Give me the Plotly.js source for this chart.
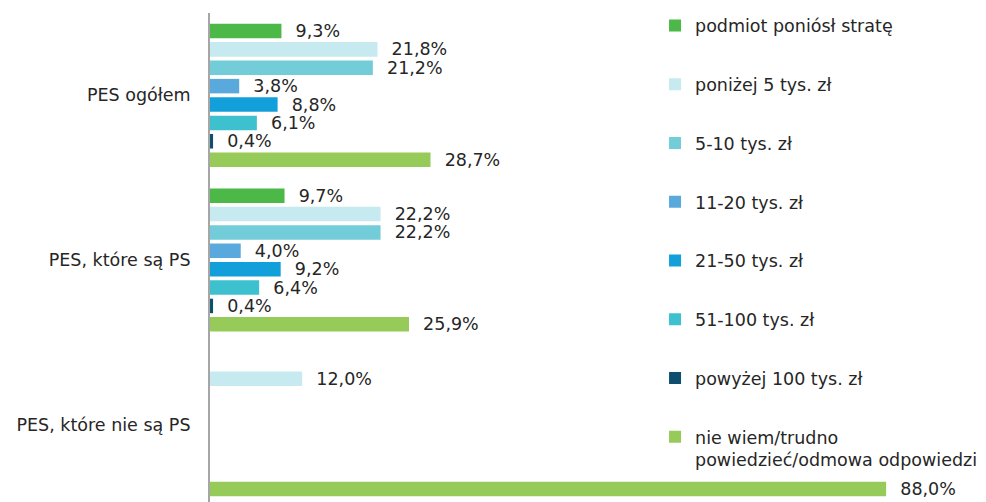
<!DOCTYPE html>
<html>
<head>
<meta charset="utf-8">
<script src="https://cdn.plot.ly/plotly-3.0.1.min.js"></script>
<style>html,body{margin:0;padding:0;background:#fff;}#chart{width:986px;height:502px;}</style>
</head>
<body>
<div id="chart"></div>
<script>
const categories = ["PES ogółem", "PES, które są PS", "PES, które nie są PS"];
const seriesNames = [
  "podmiot poniósł stratę",
  "poniżej 5 tys. zł",
  "5-10 tys. zł",
  "11-20 tys. zł",
  "21-50 tys. zł",
  "51-100 tys. zł",
  "powyżej 100 tys. zł",
  "nie wiem/trudno<br>powiedzieć/odmowa odpowiedzi"
];
const podmiotPoniosl = [9.3, 9.7, null];
const ponizej5 = [21.8, 22.2, 12.0];
const od5do10 = [21.2, 22.2, null];
const od11do20 = [3.8, 4.0, null];
const od21do50 = [8.8, 9.2, null];
const od51do100 = [6.1, 6.4, null];
const powyzej100 = [0.4, 0.4, null];
const nieWiem = [28.7, 25.9, 88.0];
const seriesValues = [podmiotPoniosl, ponizej5, od5do10, od11do20, od21do50, od51do100, powyzej100, nieWiem];
const colors = ["#4cb848", "#c7e9f0", "#73cdd9", "#5aa9dd", "#13a0da", "#3dc1ce", "#0f4f6e", "#96ca59"];

const FONT = "DejaVu Sans, Verdana, sans-serif";
const traces = seriesValues.map((vals, i) => ({
  type: "bar",
  orientation: "h",
  name: seriesNames[i],
  y: categories,
  x: vals,
  legendgroup: "g" + i,
  marker: {color: colors[i]},
  texttemplate: "\u00a0\u00a0%{x:.1f}%",
  textposition: "outside",
  constraintext: "none",
  cliponaxis: false,
  textfont: {family: FONT, size: 17.5, color: "#262626"},
  hoverinfo: "x+name"
}));

const layout = {
  width: 986,
  height: 502,
  margin: {l: 210, r: 0, t: 13, b: 0},
  paper_bgcolor: "#ffffff",
  plot_bgcolor: "#ffffff",
  barmode: "group",
  bargap: 0.107,
  bargroupgap: 0.21,
  separators: ", ",
  font: {family: FONT, size: 17.5, color: "#262626"},
  xaxis: {
    range: [0, 101],
    showgrid: false,
    zeroline: false,
    showticklabels: false,
    showline: false,
    ticks: ""
  },
  yaxis: {
    type: "category",
    range: [2.47, -0.5],
    showgrid: false,
    zeroline: false,
    showline: true,
    linecolor: "#a6a6a6",
    linewidth: 2,
    ticks: "",
    ticklabelstandoff: 14,
    tickfont: {family: FONT, size: 17.5, color: "#262626"}
  },
  showlegend: true,
  legend: {
    x: 0.5735,
    xanchor: "left",
    y: 1.011,
    yanchor: "top",
    maxheight: 1,
    bgcolor: "rgba(0,0,0,0)",
    tracegroupgap: 33,
    valign: "top",
    font: {family: FONT, size: 17.5, color: "#262626"}
  }
};

Plotly.newPlot("chart", traces, layout, {staticPlot: true, displayModeBar: false});
</script>
</body>
</html>
